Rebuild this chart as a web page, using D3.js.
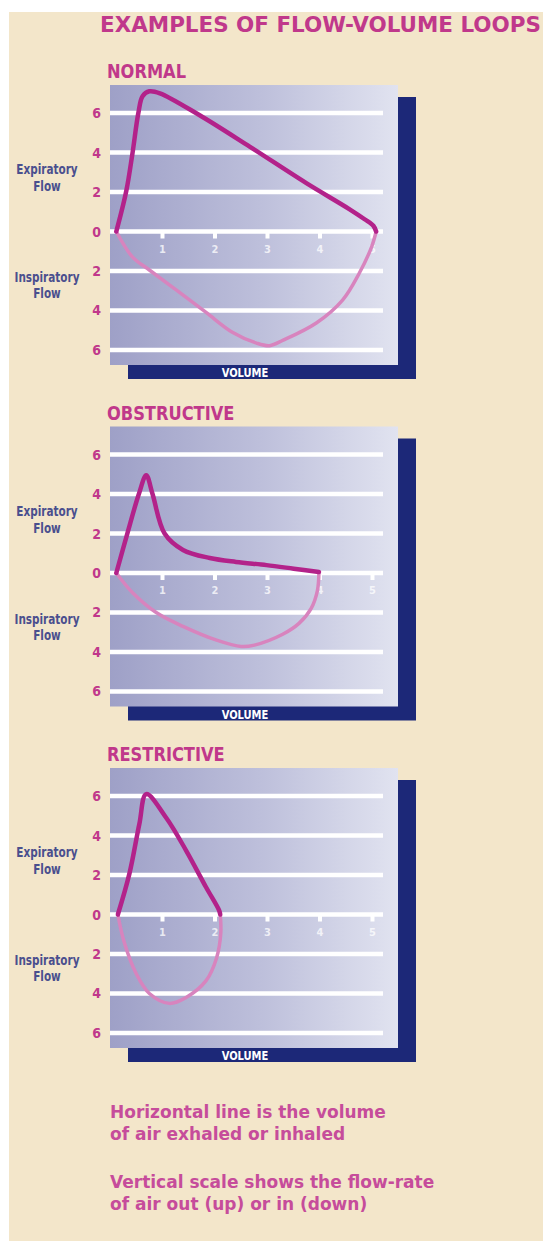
<!DOCTYPE html>
<html>
<head>
<meta charset="utf-8">
<title>Examples of Flow-Volume Loops</title>
<style>
  body { margin: 0; background: #fff; }
  svg { display: block; }
  .narrow { font-family: "Liberation Sans Narrow", "DejaVu Sans Condensed", sans-serif; font-weight: bold; }
  .wide { font-family: "DejaVu Sans", Verdana, sans-serif; font-weight: bold; }
</style>
</head>
<body>
<div id="chart"></div>
<script src="https://cdn.jsdelivr.net/npm/d3@7"></script>
<script>
// panel names and the loops: [volume, flow], inspiration negative
const panels = ["NORMAL", "OBSTRUCTIVE", "RESTRICTIVE"];
const flowTicks = [6, 4, 2, 0, -2, -4, -6];
const volumeTicks = [1, 2, 3, 4, 5];
const notes = ["Horizontal line is the volume", "of air exhaled or inhaled",
               "Vertical scale shows the flow-rate", "of air out (up) or in (down)"];

const normalExp = [[0.12, 0], [0.31, 2.05], [0.43, 4], [0.54, 6], [0.62, 6.85], [0.75, 7.1],
  [0.95, 7.0], [1.7, 5.9], [2.66, 4.3], [3.74, 2.45], [4.55, 1.15], [4.85, 0.62], [5.02, 0.28], [5.07, 0]];
const normalInsp = [[0.12, 0], [0.43, -1.3], [0.75, -1.95], [1.26, -2.96], [1.83, -4.1],
  [2.33, -5.1], [2.79, -5.65], [3.04, -5.78], [3.3, -5.5], [3.93, -4.63], [4.43, -3.47],
  [4.75, -2.1], [4.98, -0.8], [5.07, 0]];
const obstructiveExp = [[0.12, 0], [0.33, 2], [0.55, 4], [0.69, 4.95], [0.81, 4], [1.04, 2],
  [1.39, 1.17], [1.9, 0.76], [2.4, 0.56], [2.98, 0.4], [3.5, 0.22], [3.98, 0.05]];
const obstructiveInsp = [[0.12, 0], [0.43, -1], [0.88, -2], [1.39, -2.7], [2.03, -3.4],
  [2.5, -3.72], [2.75, -3.65], [3.29, -3.1], [3.6, -2.55], [3.83, -1.8], [3.95, -0.9], [3.98, 0.05]];
const restrictiveExp = [[0.15, 0], [0.37, 2.07], [0.56, 4.6], [0.69, 6.1], [1.07, 4.9],
  [1.45, 3.24], [1.83, 1.38], [2.08, 0.2], [2.1, 0]];
const restrictiveInsp = [[0.15, 0], [0.26, -1.3], [0.5, -3.0], [0.75, -4.0], [1.13, -4.5],
  [1.45, -4.2], [1.83, -3.35], [2.03, -2.2], [2.11, -0.96], [2.1, 0]];

const loops = [[normalExp, normalInsp], [obstructiveExp, obstructiveInsp], [restrictiveExp, restrictiveInsp]];

const W = 543, H = 1243;
const magenta = "#c0388b", navy = "#1c2878", labelBlue = "#4a4f8e";

// squeeze a text element horizontally, the original face is a condensed one
function squeeze(sel, f) {
  sel.each(function() {
    const l = this.getComputedTextLength();
    d3.select(this).attr("textLength", l * f).attr("lengthAdjust", "spacingAndGlyphs");
  });
}

const svg = d3.select("#chart").append("svg")
  .attr("width", W).attr("height", H);

// background gradient for the plots
const grad = svg.append("defs").append("linearGradient")
  .attr("id", "plotBg").attr("x1", 0).attr("x2", 1).attr("y1", 0).attr("y2", 0);
grad.append("stop").attr("offset", "0%").attr("stop-color", "#9ea0c7");
grad.append("stop").attr("offset", "55%").attr("stop-color", "#bfc1dc");
grad.append("stop").attr("offset", "100%").attr("stop-color", "#e1e3f0");

svg.append("rect").attr("width", W).attr("height", H).attr("fill", "#fff");
svg.append("rect").attr("x", 9).attr("y", 12).attr("width", W - 9).attr("height", 1229)
  .attr("fill", "#f3e6ca");

svg.append("text")
  .attr("class", "wide")
  .attr("x", 100).attr("y", 32)
  .attr("font-size", 21)
  .attr("textLength", 441).attr("lengthAdjust", "spacingAndGlyphs")
  .attr("fill", magenta)
  .text("EXAMPLES OF FLOW-VOLUME LOOPS");

const x = d3.scaleLinear().domain([0, 5.486]).range([110, 398]);

panels.forEach((name, i) => {
  const top = 85 + i * 341.5;
  const y = d3.scaleLinear().domain([7.42, -6.76]).range([top, top + 280]);
  const g = svg.append("g");

  g.append("text")
    .attr("class", "narrow")
    .attr("x", 107).attr("y", top - 7)
    .attr("font-size", 19)
    .attr("fill", magenta)
    .text(name)
    .call(squeeze, 0.95);

  // navy shadow, then the plot area
  g.append("rect")
    .attr("x", 128).attr("y", top + 12)
    .attr("width", 288).attr("height", 282)
    .attr("fill", navy);
  g.append("rect")
    .attr("x", x(0)).attr("y", top)
    .attr("width", x.range()[1] - x(0)).attr("height", 280)
    .attr("fill", "url(#plotBg)");

  // white grid lines
  g.selectAll(".grid")
    .data(flowTicks)
    .enter().append("line")
    .attr("x1", x(0)).attr("x2", x(5.2))
    .attr("y1", d => y(d)).attr("y2", d => y(d))
    .attr("stroke", "#fff")
    .attr("stroke-width", 4.5);

  // volume ticks under the zero line
  g.selectAll(".vtick")
    .data(volumeTicks)
    .enter().append("rect")
    .attr("x", d => x(d) - 2).attr("y", y(0))
    .attr("width", 4).attr("height", 7)
    .attr("fill", "#fff");
  g.selectAll(".vlabel")
    .data(volumeTicks)
    .enter().append("text")
    .attr("class", "narrow")
    .attr("x", d => x(d)).attr("y", y(0) + 21)
    .attr("text-anchor", "middle")
    .attr("font-size", 11)
    .attr("fill", "#fff").attr("fill-opacity", 0.75)
    .text(d => d);

  // flow axis
  const axis = g.append("g")
    .attr("transform", `translate(104,0)`)
    .call(d3.axisLeft(y).tickValues(flowTicks).tickSize(0).tickFormat(d => Math.abs(d)));
  axis.select(".domain").remove();
  axis.selectAll("text")
    .attr("class", "narrow")
    .attr("font-size", 14)
    .attr("fill", magenta);

  const side = [["Expiratory", -57.5], ["Flow", -40.5], ["Inspiratory", 50.5], ["Flow", 66.5]];
  g.selectAll(".side")
    .data(side)
    .enter().append("text")
    .attr("class", "narrow")
    .attr("x", 47).attr("y", d => y(0) + d[1])
    .attr("text-anchor", "middle")
    .attr("font-size", 14)
    .attr("fill", labelBlue)
    .text(d => d[0])
    .call(squeeze, 0.83);

  g.append("text")
    .attr("class", "narrow")
    .attr("x", 245).attr("y", top + 292)
    .attr("text-anchor", "middle")
    .attr("font-size", 13)
    .attr("fill", "#fff")
    .text("VOLUME")
    .call(squeeze, 0.85);

  const line = d3.line()
    .x(d => x(d[0]))
    .y(d => y(d[1]))
    .curve(d3.curveCatmullRom.alpha(0.5));

  g.append("path")
    .attr("d", line(loops[i][1]))
    .attr("fill", "none")
    .attr("stroke", "#d884be")
    .attr("stroke-width", 3.5)
    .attr("stroke-linecap", "round");
  g.append("path")
    .attr("d", line(loops[i][0]))
    .attr("fill", "none")
    .attr("stroke", "#b3228a")
    .attr("stroke-width", 4.5)
    .attr("stroke-linecap", "round")
    .attr("stroke-linejoin", "round");
});

svg.selectAll(".note")
  .data(notes)
  .enter().append("text")
  .attr("class", "wide")
  .attr("x", 110)
  .attr("y", (d, i) => [1118, 1140, 1188, 1210][i])
  .attr("font-size", 17)
  .attr("fill", "#c64c9b")
  .text(d => d);
</script>
</body>
</html>
